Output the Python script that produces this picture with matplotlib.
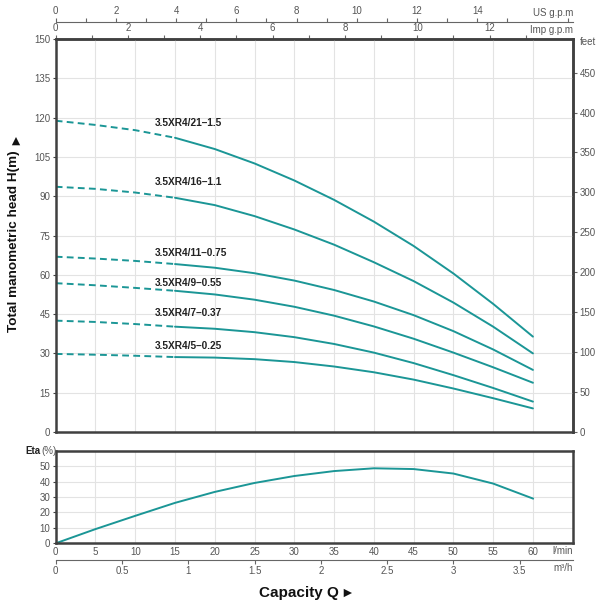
import matplotlib
matplotlib.use('Agg')
import matplotlib.pyplot as plt
from matplotlib.ticker import FormatStrFormatter

plt.rcParams['font.family'] = ['Liberation Sans', 'DejaVu Sans']

# ---------------- data ----------------
flow_lpm = [0, 5, 10, 15, 20, 25, 30, 35, 40, 45, 50, 55, 60]
head_21_15 = [118.8, 117.2, 115.2, 112.3, 108.0, 102.5, 96.0, 88.6, 80.3, 71.0, 60.5, 48.9, 36.4]
head_16_11 = [93.6, 92.8, 91.4, 89.4, 86.6, 82.4, 77.3, 71.5, 64.8, 57.6, 49.4, 40.2, 30.0]
head_11_075 = [66.9, 66.2, 65.3, 64.1, 62.7, 60.6, 57.8, 54.2, 49.8, 44.6, 38.5, 31.5, 23.7]
head_9_055 = [56.8, 56.0, 55.0, 53.9, 52.5, 50.5, 47.8, 44.4, 40.3, 35.6, 30.3, 24.7, 18.8]
head_7_037 = [42.5, 42.0, 41.2, 40.2, 39.4, 38.1, 36.2, 33.6, 30.3, 26.3, 21.7, 16.8, 11.6]
head_5_025 = [29.8, 29.5, 29.1, 28.6, 28.4, 27.8, 26.7, 25.0, 22.8, 20.0, 16.6, 12.9, 9.0]
eta_pct = [0, 9.2, 17.8, 26.2, 33.3, 39.1, 43.6, 46.8, 48.6, 48.1, 45.2, 38.7, 29.0]

model_names = ['3.5XR4/21–1.5', '3.5XR4/16–1.1', '3.5XR4/11–0.75',
               '3.5XR4/9–0.55', '3.5XR4/7–0.37', '3.5XR4/5–0.25']
model_heads = [head_21_15, head_16_11, head_11_075, head_9_055, head_7_037, head_5_025]
label_heads = [118.0, 95.5, 68.2, 57.0, 45.3, 32.8]
label_flow = 12.5

head_ticks = list(range(0, 151, 15))
feet_ticks = list(range(0, 451, 50))
lpm_ticks = list(range(0, 61, 5))
m3h_ticks = [0, 0.5, 1, 1.5, 2, 2.5, 3, 3.5]
imp_major = list(range(0, 13, 2))
imp_minor = list(range(1, 14, 2))
us_major = list(range(0, 15, 2))
us_minor = list(range(1, 18, 2))
eta_ticks = list(range(0, 51, 10))
dashed_end = 3  # index of 15 l/min

# ---------------- style ----------------
W, H = 600, 604
TEAL = '#1b9696'
FRAME = '#404040'
GRID = '#e3e3e3'
TICKC = '#555555'
TFS = 7


def fx(px):
    return px / W


def fy(py):
    return 1 - py / H


fig = plt.figure(figsize=(W / 100, H / 100), dpi=100)
fig.patch.set_facecolor('white')

L, R = 55.7, 572.7
ax = fig.add_axes([fx(L), fy(432), (R - L) / W, (432 - 39) / H])
ax.set_xlim(0, 65)
ax.set_ylim(0, 150)
ax.set_xticks(lpm_ticks)
ax.set_yticks(head_ticks)
ax.grid(True, color=GRID, lw=0.8)
ax.set_axisbelow(True)
ax.tick_params(axis='x', bottom=False, labelbottom=False, top=False, labeltop=False)
ax.tick_params(axis='y', left=True, length=2, width=0.8, color=FRAME,
               labelsize=TFS, labelcolor=TICKC, pad=2)
for s in ax.spines.values():
    s.set_color(FRAME)
    s.set_linewidth(1.8)

for name, hd, ly in zip(model_names, model_heads, label_heads):
    ax.plot(flow_lpm[:dashed_end + 1], hd[:dashed_end + 1], color=TEAL, lw=1.4,
            ls=(0, (3.5, 2.2)))
    ax.plot(flow_lpm[dashed_end:], hd[dashed_end:], color=TEAL, lw=1.4,
            solid_capstyle='round', solid_joinstyle='round')
    ax.text(label_flow, ly, name, fontsize=7.3, fontweight='bold', color='#222222',
            ha='left', va='center')

# top: Imp g.p.m (on frame)
imp = ax.secondary_xaxis('top', functions=(lambda q: q / 4.54609, lambda g: g * 4.54609))
imp.set_xticks(imp_major)
imp.set_xticks(imp_minor, minor=True)
imp.tick_params(which='both', direction='out', length=3, width=0.8, color='#666666',
                labelsize=TFS, labelcolor=TICKC, pad=1)
imp.spines['top'].set_color(FRAME)
imp.spines['top'].set_linewidth(1.8)

# top: US g.p.m (offset line)
us = ax.secondary_xaxis((432 - 22) / (432 - 39),
                        functions=(lambda q: q / 3.78541, lambda g: g * 3.78541))
us.set_xticks(us_major)
us.set_xticks(us_minor, minor=True)
us.tick_params(which='both', direction='out', length=3, width=0.8, color='#666666',
               labelsize=TFS, labelcolor=TICKC, pad=1)
for s in us.spines.values():
    s.set_color('#666666')
    s.set_linewidth(0.8)

# right: feet
ft = ax.secondary_yaxis('right', functions=(lambda m: m * 3.28084, lambda f: f / 3.28084))
ft.set_yticks(feet_ticks)
ft.tick_params(direction='out', length=3, width=0.8, color='#666666',
               labelsize=TFS, labelcolor=TICKC, pad=2)
ft.spines['right'].set_color(FRAME)
ft.spines['right'].set_linewidth(1.8)

fig.text(fx(573), fy(13), 'US g.p.m', fontsize=TFS, color=TICKC, ha='right', va='center')
fig.text(fx(573), fy(30), 'Imp g.p.m', fontsize=TFS, color=TICKC, ha='right', va='center')
fig.text(fx(580), fy(42), 'feet', fontsize=TFS, color=TICKC, ha='left', va='center')

# ---------------- efficiency axes ----------------
ax2 = fig.add_axes([fx(L), fy(543.3), (R - L) / W, (543.3 - 450.7) / H])
ax2.set_xlim(0, 65)
ax2.set_ylim(0, 60)
ax2.set_xticks(lpm_ticks)
ax2.set_yticks(eta_ticks)
ax2.set_yticks([60], minor=True)
ax2.grid(True, which='both', color=GRID, lw=0.8)
ax2.set_axisbelow(True)
ax2.tick_params(axis='x', length=0, labelsize=TFS, labelcolor=TICKC, pad=3)
ax2.tick_params(axis='y', length=2, width=0.8, color=FRAME, labelsize=TFS,
                labelcolor=TICKC, pad=2)
ax2.tick_params(axis='y', which='minor', length=0)
for s in ax2.spines.values():
    s.set_color(FRAME)
    s.set_linewidth(1.8)
ax2.plot(flow_lpm, eta_pct, color=TEAL, lw=1.4, solid_joinstyle='round')

m3 = ax2.secondary_xaxis(-(560 - 543.3) / (543.3 - 450.7),
                         functions=(lambda q: q * 0.06, lambda m: m / 0.06))
m3.set_xticks(m3h_ticks)
m3.xaxis.set_major_formatter(FormatStrFormatter('%g'))
m3.tick_params(direction='out', length=3, width=0.8, color='#666666',
               labelsize=TFS, labelcolor=TICKC, pad=1)
for s in m3.spines.values():
    s.set_color('#666666')
    s.set_linewidth(0.8)

fig.text(fx(573), fy(551), 'l/min', fontsize=TFS, color=TICKC, ha='right', va='center')
fig.text(fx(573), fy(568), 'm³/h', fontsize=TFS, color=TICKC, ha='right', va='center')
fig.text(fx(41), fy(450.5), 'Eta', fontsize=7, fontweight='bold', color='#222222',
         ha='right', va='center')
fig.text(fx(41), fy(450.5), '(%)', fontsize=7, color=TICKC, ha='left', va='center')

# axis titles
fig.text(fx(14), fy(241), 'Total manometric head H(m)', rotation=90, fontsize=9.7,
         fontweight='bold', color='#111111', ha='center', va='center')
fig.text(fx(14), fy(138), '►', rotation=90, fontsize=10, color='#111111',
         ha='center', va='center')
fig.text(fx(299), fy(593), 'Capacity Q', fontsize=11, fontweight='bold',
         color='#111111', ha='center', va='center')
fig.text(fx(347), fy(593), '►', fontsize=10, color='#111111', ha='center', va='center')

fig.savefig('out.png', dpi=100, facecolor='white')
